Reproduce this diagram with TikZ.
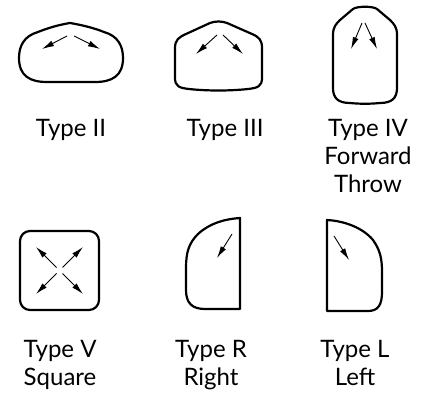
\documentclass[tikz,border=0pt]{standalone}
\usepackage{fontspec}
\setmainfont{Lato}
\usetikzlibrary{arrows.meta}
\begin{document}
\begin{tikzpicture}[x={(1pt,0pt)},y={(0pt,-1pt)},
  every node/.style={font=\fontsize{24}{28}\selectfont, inner sep=0pt, outer sep=0pt, align=center, anchor=base},
  outline/.style={line width=2.2pt, line join=round},
  throw/.style={line width=0.9pt, -{Latex[length=12pt,width=6pt]}}]
\useasboundingbox (0,0) rectangle (428,395);
% Type II
\draw[outline] (70,23) .. controls (82,25) and (94,28) .. (104,32) .. controls (118,36) and (123,46) .. (123,58) .. controls (123,76) and (112,82) .. (95,82) -- (47,82) .. controls (30,82) and (19,76) .. (19,58) .. controls (19,46) and (24,36) .. (38,32) .. controls (48,28) and (58,25) .. cycle;
\draw[throw] (67,36) -- (42,49);
\draw[throw] (74,36) -- (100,49);
\node (typeII) at (71,137) {Type II};
% Type III
\draw[outline] (175,48) .. controls (175,40) and (179,37) .. (186,34) -- (210,23) .. controls (215,21) and (222,21) .. (227,23) -- (252,34) .. controls (259,37) and (262,40) .. (262,48) -- (262,78) .. controls (262,86) and (258,88) .. (248,89) .. controls (230,91) and (207,91) .. (189,89) .. controls (179,88) and (175,86) .. (175,78) -- cycle;
\draw[throw] (217,35) -- (196,54);
\draw[throw] (223,35) -- (243,54);
\node (typeIII) at (225,137) {Type III};
% Type IV (last line sits on the base)
\draw[outline] (333,35) .. controls (333,27) and (336,24) .. (340,20) -- (353,9) .. controls (357,6) and (373,6) .. (377,9) -- (390,20) .. controls (394,24) and (397,27) .. (397,35) -- (397,88) .. controls (397,98) and (392,103) .. (380,103) .. controls (370,104) and (360,104) .. (350,103) .. controls (338,103) and (333,98) .. (333,88) -- cycle;
\draw[throw] (362,23) -- (351,49);
\draw[throw] (365,23) -- (377,49);
\node (typeIV) at (368,193) {Type IV\\Forward\\Throw};
% Type V
\draw[outline, rounded corners=10pt] (20,231) rectangle (99,310);
\draw[throw] (56.5,267.5) -- (36,247);
\draw[throw] (62.5,267.5) -- (83,247);
\draw[throw] (56.5,273.5) -- (36,294);
\draw[throw] (62.5,273.5) -- (83,294);
\node (typeV) at (60,385) {Type V\\Square};
% Type R
\draw[outline] (240,218) -- (240,309) -- (205,309) .. controls (192,309) and (186,303) .. (186,290) -- (186,268) .. controls (186,252) and (189,243) .. (198,234) .. controls (210,223) and (225,219) .. cycle;
\draw[throw] (232,234) -- (217,258);
\node (typeR) at (211,385) {Type R\\Right};
% Type L
\draw[outline] (327,220) -- (327,311) -- (368,311) .. controls (378,311) and (382,305) .. (382,292) -- (382,272) .. controls (382,258) and (380,250) .. (373,240) .. controls (363,228) and (345,221) .. cycle;
\draw[throw] (334,236) -- (349,260);
\node (typeL) at (355,385) {Type L\\Left};
\end{tikzpicture}
\end{document}
